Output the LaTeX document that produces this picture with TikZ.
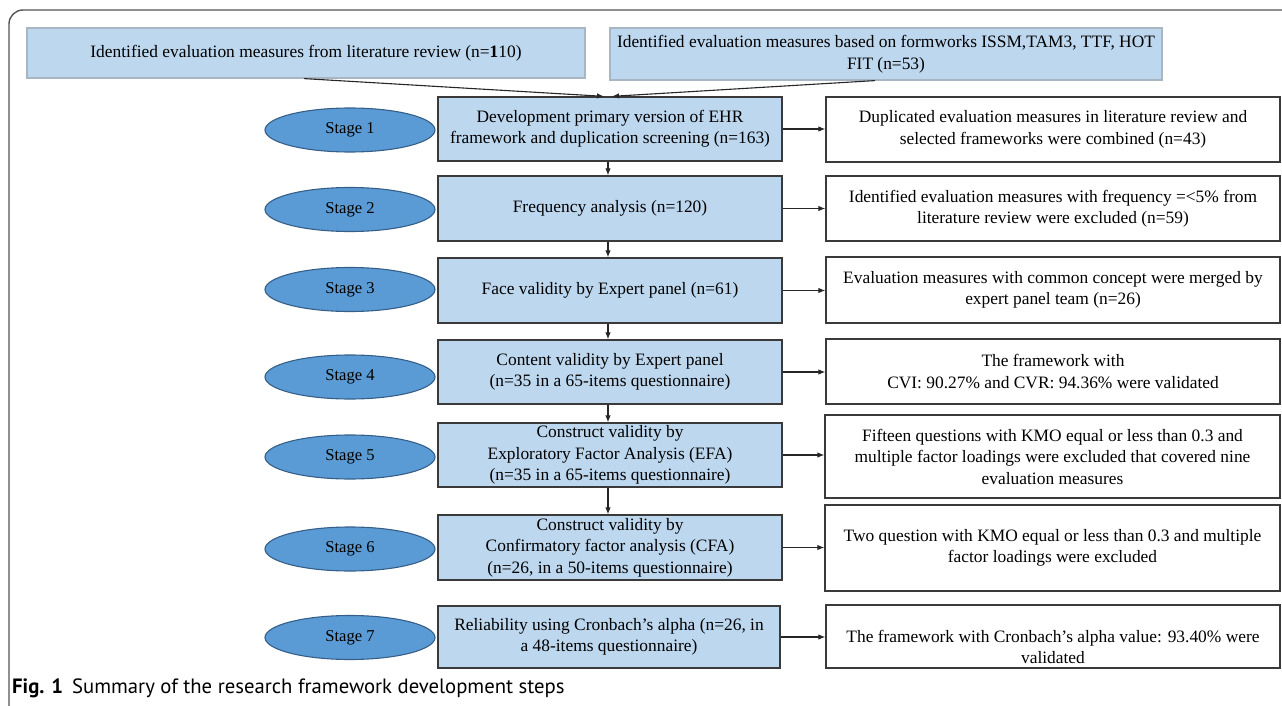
\documentclass[tikz,border=0pt]{standalone}
\usepackage{fontspec}
\setmainfont{Liberation Serif}
\newfontfamily\capfont{PT Sans}
\usetikzlibrary{arrows.meta,shapes.geometric}
\definecolor{boxblue}{HTML}{BDD7EE}
\definecolor{ellblue}{HTML}{5B9BD5}
\definecolor{elledge}{HTML}{355F88}
\definecolor{topedge}{HTML}{A8B6C4}
\definecolor{darkedge}{HTML}{3A3A3A}
\definecolor{framegray}{HTML}{555555}
\tikzset{
  txt/.style={font=\fontsize{17.4}{21.5}\selectfont, align=center, inner sep=0pt},
  topbox/.style={txt, draw=topedge, fill=boxblue, line width=1.2pt},
  stagebox/.style={txt, draw=darkedge, fill=boxblue, line width=1.3pt, minimum width=344pt, minimum height=64pt},
  resbox/.style={txt, draw=darkedge, fill=white, line width=1.3pt, minimum width=454pt, minimum height=65pt},
  stageell/.style={ellipse, draw=elledge, fill=ellblue, line width=1.1pt, minimum width=170pt, minimum height=44pt, inner sep=0pt, font=\fontsize{16.6}{20}\selectfont},
  arr/.style={-{Latex[length=7pt,width=5.5pt]}, line width=1.1pt, draw=black!85},
}
\begin{document}
\begin{tikzpicture}[x=1pt,y=-1pt]
\useasboundingbox (0,0) rectangle (1282,706);
\begin{scope}
\clip (0,0) rectangle (1282,706);
\draw[framegray, line width=1.4pt, rounded corners=14pt] (9,10) rectangle (1320,720);
\end{scope}

% top boxes
\node[topbox, minimum width=558pt, minimum height=50pt] (top1) at (306,53)
  {Identified evaluation measures from literature review (n=\textbf{1}10)};
\node[topbox, minimum width=552pt, minimum height=52pt] (top2) at (886,54)
  {Identified evaluation measures based on formworks ISSM,TAM3, TTF, HOT\\FIT (n=53)};

% stage boxes
\node[stagebox] (s1) at (610,129) {Development primary version of EHR\\framework and duplication screening (n=163)};
\node[stagebox, minimum height=65pt] (s2) at (610,208.5) {Frequency analysis (n=120)};
\node[stagebox, minimum height=65pt] (s3) at (610,290.5) {Face validity by Expert panel (n=61)};
\node[stagebox] (s4) at (610,372) {Content validity by Expert panel\\(n=35 in a 65-items questionnaire)};
\node[stagebox] (s5) at (610,455) {Construct validity by\\Exploratory Factor Analysis (EFA)\\(n=35 in a 65-items questionnaire)};
\node[stagebox, minimum height=65pt] (s6) at (610,547.5) {Construct validity by\\Confirmatory factor analysis (CFA)\\(n=26, in a 50-items questionnaire)};
\node[stagebox, minimum width=342pt, minimum height=62pt] (s7) at (609,637) {Reliability using Cronbach's alpha (n=26, in\\a 48-items questionnaire)};

% ellipses
\node[stageell] (e1) at (350,130) {Stage 1};
\node[stageell] (e2) at (350,209.5) {Stage 2};
\node[stageell] (e3) at (350,289.5) {Stage 3};
\node[stageell] (e4) at (350,377) {Stage 4};
\node[stageell] (e5) at (350,457) {Stage 5};
\node[stageell] (e6) at (350,549) {Stage 6};
\node[stageell] (e7) at (350,637.5) {Stage 7};

% result boxes
\node[resbox] (r1) at (1053,129.5) {Duplicated evaluation measures in literature review and\\selected frameworks were combined (n=43)};
\node[resbox] (r2) at (1053,208.5) {Identified evaluation measures with frequency =<5\% from\\literature review were excluded (n=59)};
\node[resbox, minimum height=66pt] (r3) at (1053,290) {Evaluation measures with common concept were merged by\\expert panel team (n=26)};
\node[resbox] (r4) at (1053,371.5) {The framework with\\CVI: 90.27\% and CVR: 94.36\% were validated};
\node[resbox, minimum width=455pt, minimum height=83pt] (r5) at (1052.5,456.5) {Fifteen questions with KMO equal or less than 0.3 and\\multiple factor loadings were excluded that covered nine\\evaluation measures};
\node[resbox, minimum width=455pt, minimum height=86pt] (r6) at (1052.5,548) {Two question with KMO equal or less than 0.3 and multiple\\factor loadings were excluded};
\node[resbox, minimum height=63pt] (r7) at (1053,636.5) {};
\node[txt] (r7t) at (1053,647) {The framework with Cronbach's alpha value: 93.40\% were\\validated};

% connectors
\draw[arr] ([xshift=-2pt]top1.south) -- ([xshift=-6pt]s1.north);
\draw[arr] ([xshift=-11pt]top2.south) -- ([xshift=2pt]s1.north);
\foreach \a/\b in {s1/s2,s2/s3,s3/s4,s4/s5,s5/s6}
  \draw[arr] ([xshift=-2pt]\a.south) -- ([xshift=-2pt]\b.north);
\foreach \i in {1,...,7}
  \draw[arr] (s\i.east) -- (s\i.east -| r\i.west);

% caption
\node[anchor=west, inner sep=0pt, font=\capfont\fontsize{20.7}{22}\selectfont] (cap) at (12,688)
  {\textbf{Fig. 1}\hspace{9pt}Summary of the research framework development steps};
\end{tikzpicture}
\end{document}
